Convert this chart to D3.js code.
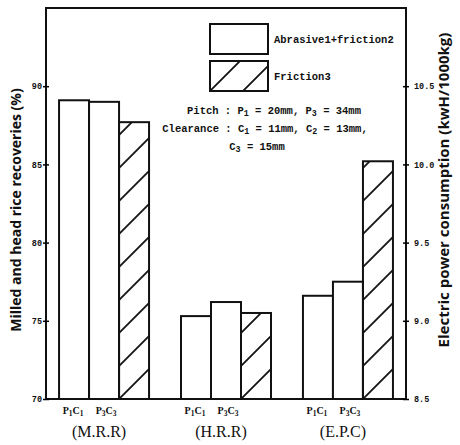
<!DOCTYPE html>
<html>
<head>
<meta charset="utf-8">
<script src="https://cdn.jsdelivr.net/npm/d3@7"></script>
<style>
  body { margin: 0; background: #fff; }
  svg { display: block; }
</style>
</head>
<body>
<svg></svg>
<script>
// values
var groups = ["(M.R.R)", "(H.R.R)", "(E.P.C)"];
var bars = ["P1C1", "P3C3", "F3"];
var hatched = [false, false, true];
var mrr = [89.1, 89.0, 87.7];
var hrr = [75.3, 76.2, 75.5];
var epc = [9.16, 9.25, 10.02];
var leftTicks = [70, 75, 80, 85, 90];
var rightTicks = [8.5, 9.0, 9.5, 10.0, 10.5];
var legendNames = ["Abrasive1+friction2", "Friction3"];

var width = 460, height = 445;
var pLeft = 46, pRight = 406, pTop = 8, pBot = 399;

var svg = d3.select("svg")
            .attr("width", width)
            .attr("height", height);

var xGroup = d3.scaleBand()
               .domain(groups)
               .range([pLeft, pRight])
               .paddingInner(0.262)
               .paddingOuter(0.107);
var xBar = d3.scaleBand()
             .domain(bars)
             .range([0, xGroup.bandwidth()]);
var yLeft = d3.scaleLinear().domain([70, 95]).range([pBot, pTop]);
var yRight = d3.scaleLinear().domain([8.5, 11.0]).range([pBot, pTop]);

var data = [];
[mrr, hrr, epc].forEach(function(vals, i){
  vals.forEach(function(v, j){
    data.push({group: groups[i], bar: bars[j], hatch: hatched[j], value: v,
               scale: i == 2 ? yRight : yLeft});
  });
});

var defs = svg.append("defs");
function hatchPattern(id, x, y){
  var p = defs.append("pattern")
              .attr("id", id)
              .attr("patternUnits", "userSpaceOnUse")
              .attr("x", x).attr("y", y)
              .attr("width", 33).attr("height", 33);
  p.append("path")
   .attr("d", "M-1,1 l2,-2 M0,33 l33,-33 M32,34 l2,-2")
   .attr("stroke", "#111")
   .attr("stroke-width", 1.8);
  return "url(#" + id + ")";
}

// bars
svg.selectAll("rect.bar")
   .data(data)
   .enter()
   .append("rect")
   .attr("class", "bar")
   .attr("x", function(d){ return xGroup(d.group) + xBar(d.bar); })
   .attr("y", function(d){ return d.scale(d.value); })
   .attr("width", xBar.bandwidth())
   .attr("height", function(d){ return pBot - d.scale(d.value); })
   .attr("fill", function(d, i){
     if (!d.hatch) return "#fff";
     return hatchPattern("h" + i, xGroup(d.group) + xBar(d.bar), pBot);
   })
   .attr("stroke", "#111")
   .attr("stroke-width", 2);

// frame
svg.append("rect")
   .attr("x", pLeft).attr("y", pTop)
   .attr("width", pRight - pLeft).attr("height", pBot - pTop)
   .attr("fill", "none")
   .attr("stroke", "#111")
   .attr("stroke-width", 2);

var tickFont = "'Liberation Mono', monospace";

var yAxisL = d3.axisLeft(yLeft).tickValues(leftTicks).tickSize(4).tickPadding(0)
               .tickFormat(d3.format("d"));
var gL = svg.append("g")
            .attr("transform", "translate(" + pLeft + ",0)")
            .call(yAxisL);
gL.select(".domain").remove();
gL.selectAll(".tick line").attr("x1", -3).attr("x2", 3).attr("stroke-width", 1.5);
gL.selectAll(".tick text").attr("font-family", tickFont).attr("font-weight", "bold")
  .attr("font-size", 8.5).attr("fill", "#111");

var yAxisR = d3.axisRight(yRight).tickValues(rightTicks).tickSize(4).tickPadding(4)
               .tickFormat(d3.format(".1f"));
var gR = svg.append("g")
            .attr("transform", "translate(" + pRight + ",0)")
            .call(yAxisR);
gR.select(".domain").remove();
gR.selectAll(".tick line").attr("x1", -3).attr("x2", 3).attr("stroke-width", 1.5);
gR.selectAll(".tick text").attr("font-family", tickFont).attr("font-weight", "bold")
  .attr("font-size", 8.5).attr("fill", "#111");

// x labels: P1C1 P3C3 under first two bars of each group
function subLabel(sel, a, b, c, d){
  sel.append("tspan").text(a);
  sel.append("tspan").attr("baseline-shift", "-25%").attr("font-size", "0.75em").text(b);
  sel.append("tspan").text(c);
  sel.append("tspan").attr("baseline-shift", "-25%").attr("font-size", "0.75em").text(d);
}
groups.forEach(function(g){
  [["P","1","C","1"], ["P","3","C","3"]].forEach(function(parts, j){
    var t = svg.append("text")
               .attr("x", xGroup(g) + xBar(bars[j]) + xBar.bandwidth()/2 + (j == 1 ? 2 : -1))
               .attr("y", 414)
               .attr("text-anchor", "middle")
               .attr("font-family", "'Liberation Serif', serif")
               .attr("font-weight", "bold")
               .attr("font-size", 10)
               .attr("fill", "#111");
    subLabel(t, parts[0], parts[1], parts[2], parts[3]);
  });
  svg.append("text")
     .attr("x", xGroup(g) + xGroup.bandwidth()/2 - 5)
     .attr("y", 437)
     .attr("text-anchor", "middle")
     .attr("font-family", "'Liberation Serif', serif")
     .attr("font-size", 16)
     .attr("fill", "#111")
     .text(g);
});

// axis titles
svg.append("text")
   .attr("transform", "translate(21,210) rotate(-90)")
   .attr("text-anchor", "middle")
   .attr("font-family", "'Open Sans', sans-serif")
   .attr("font-weight", "bold")
   .attr("font-size", 14)
   .attr("fill", "#111")
   .text("Milled and head rice recoveries (%)");
svg.append("text")
   .attr("transform", "translate(449,190) rotate(-90)")
   .attr("text-anchor", "middle")
   .attr("font-family", "'Open Sans', sans-serif")
   .attr("font-weight", "bold")
   .attr("font-size", 15)
   .attr("fill", "#111")
   .text("Electric power consumption (kwH/1000kg)");

// legend
var legX = 210, legW = 58, legH = 30;
var legY = [24, 61];
legendNames.forEach(function(name, i){
  svg.append("rect")
     .attr("x", legX).attr("y", legY[i])
     .attr("width", legW).attr("height", legH)
     .attr("fill", i == 1 ? hatchPattern("leg", legX, legY[i] + legH) : "#fff")
     .attr("stroke", "#111")
     .attr("stroke-width", 2);
  svg.append("text")
     .attr("x", legX + legW + 6)
     .attr("y", legY[i] + legH/2 + 4)
     .attr("font-family", tickFont)
     .attr("font-weight", "bold")
     .attr("font-size", 10.5)
     .attr("fill", "#111")
     .text(name);
});

// note text
function note(y, x, anchor, pieces){
  var t = svg.append("text")
             .attr("x", x).attr("y", y)
             .attr("text-anchor", anchor)
             .attr("font-family", tickFont)
             .attr("font-weight", "bold")
             .attr("font-size", 10.5)
             .attr("xml:space", "preserve")
             .attr("fill", "#111");
  pieces.forEach(function(p){
    if (p[0] == "_") {
      t.append("tspan").attr("baseline-shift", "-25%").attr("font-size", "0.8em").text(p.slice(1));
    } else {
      t.append("tspan").text(p);
    }
  });
}
note(114, 274, "middle", ["Pitch : P", "_1", " = 20mm, P", "_3", " = 34mm"]);
note(132, 265, "middle", ["Clearance : C", "_1", " = 11mm, C", "_2", " = 13mm,"]);
note(150, 257, "middle", ["C", "_3", " = 15mm"]);
</script>
</body>
</html>
